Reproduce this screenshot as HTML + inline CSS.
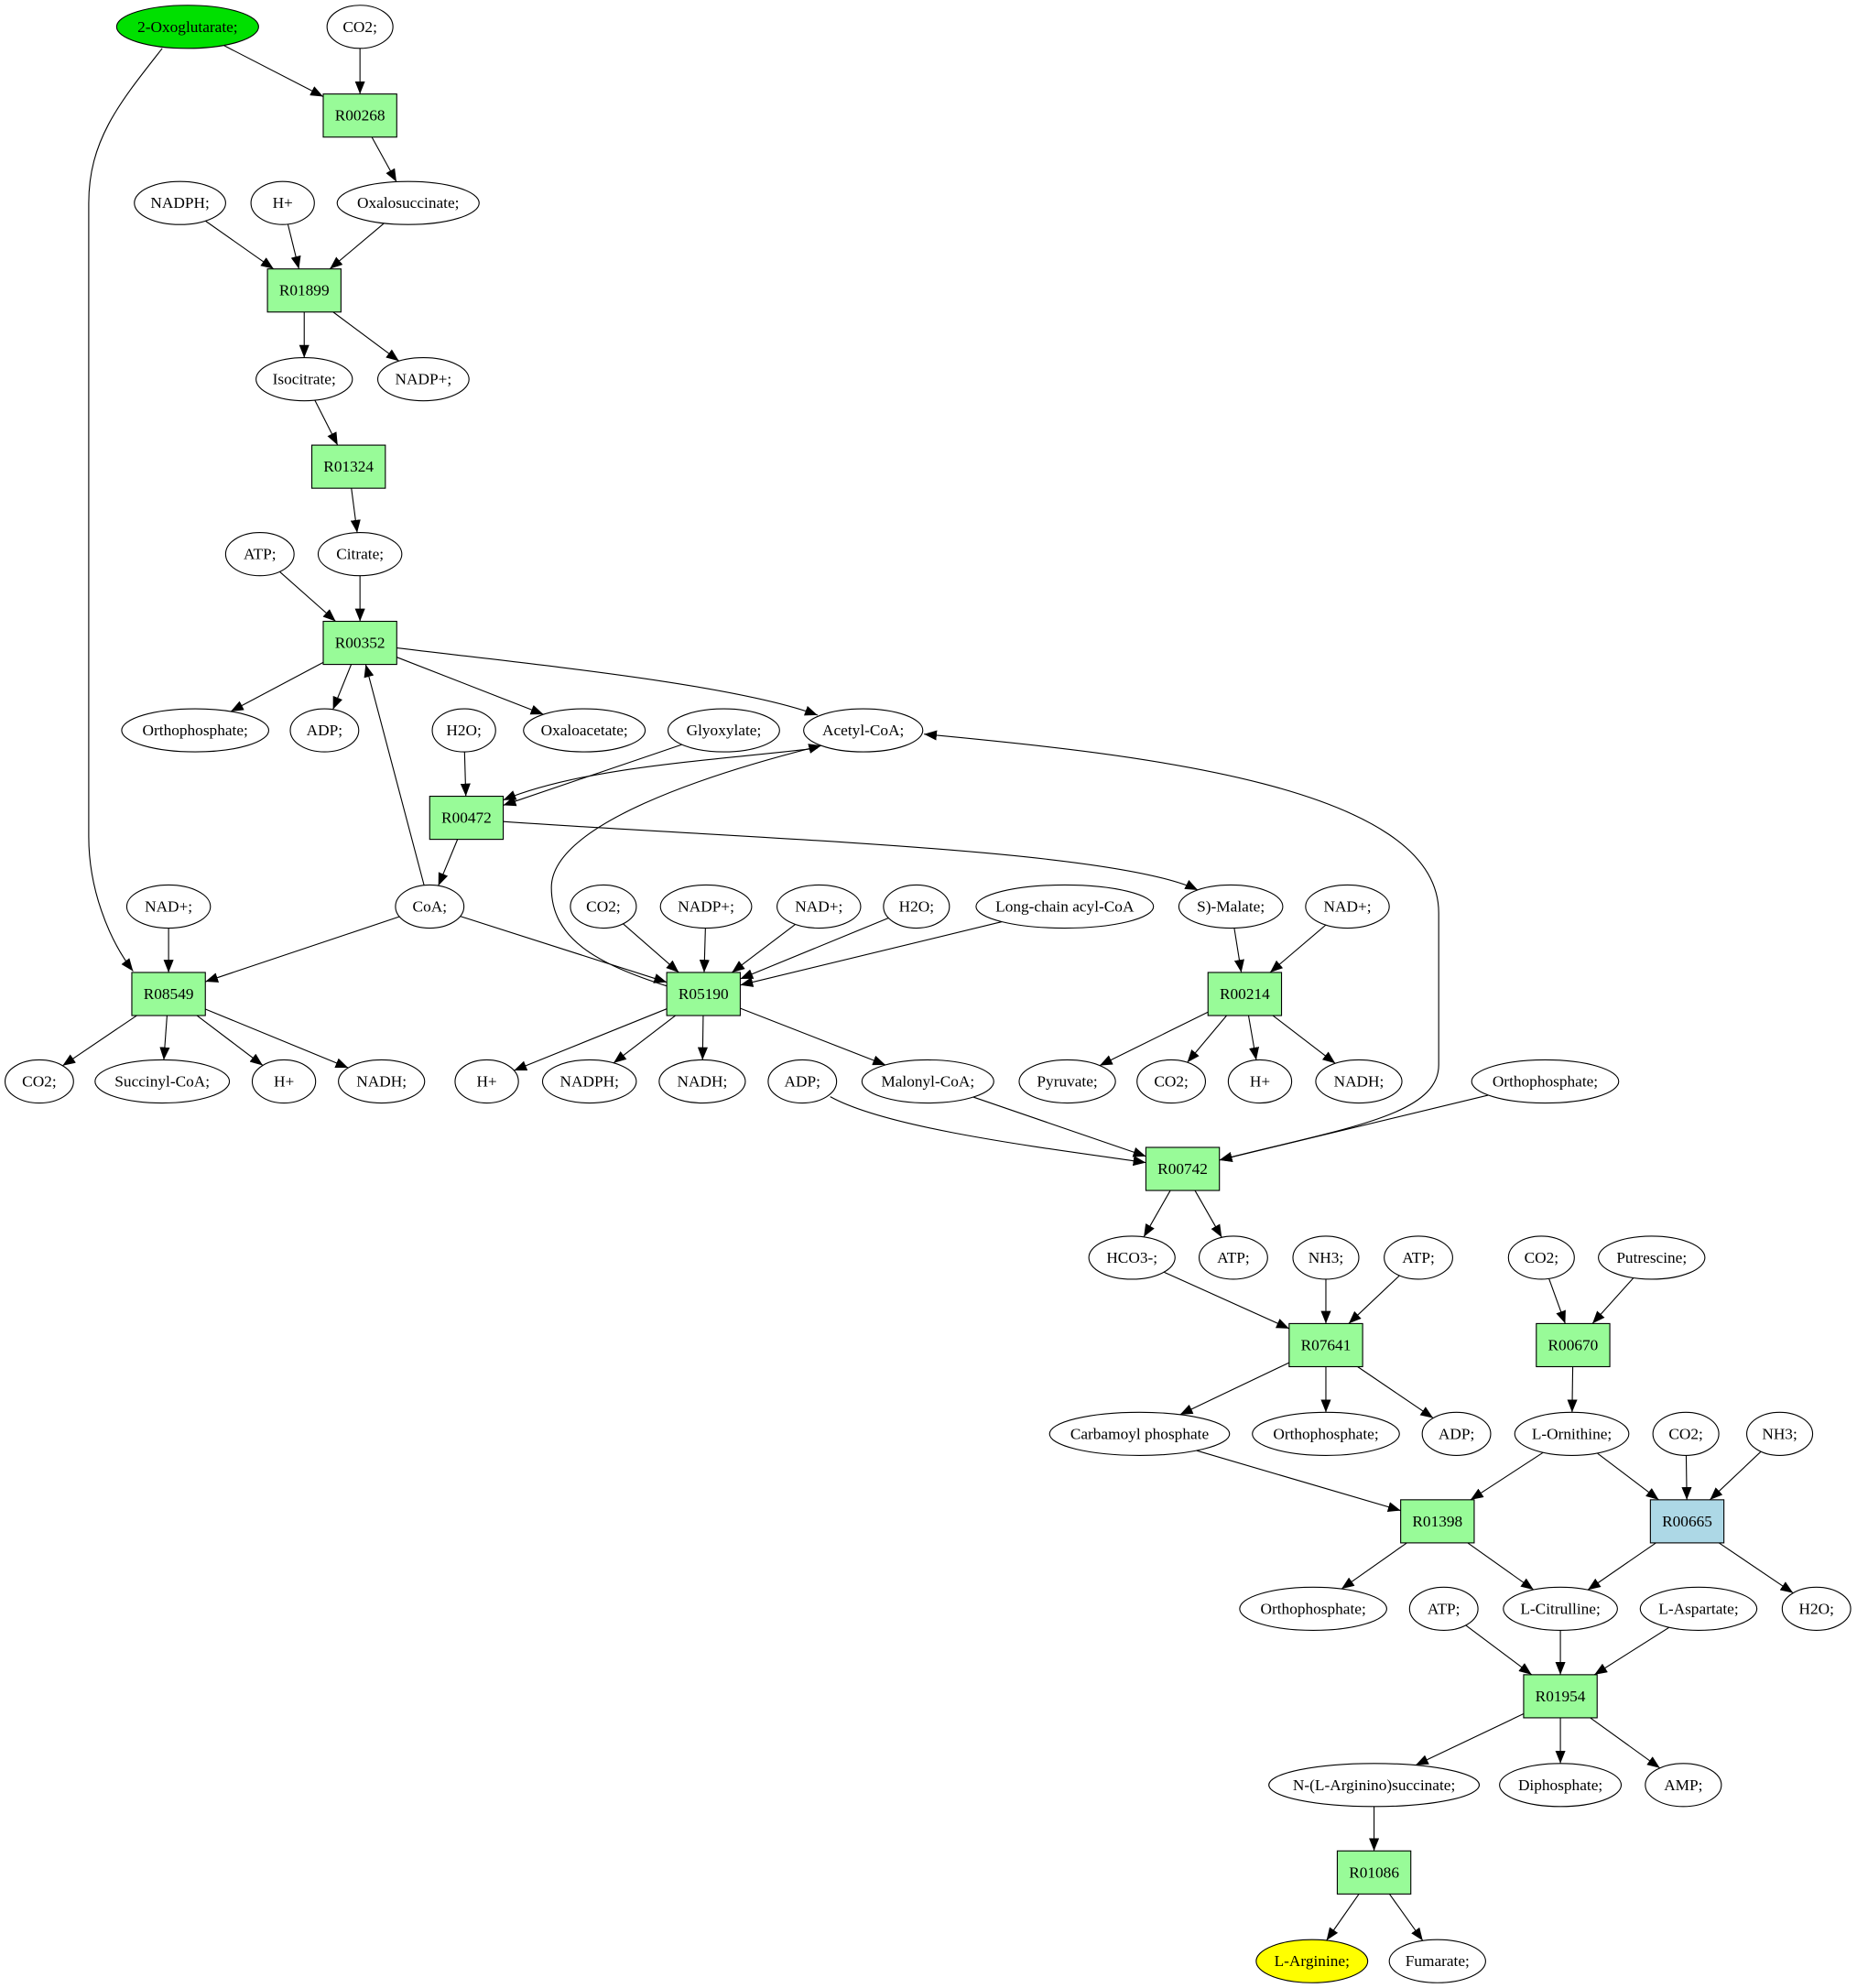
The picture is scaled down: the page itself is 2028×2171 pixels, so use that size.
<!DOCTYPE html>
<html><head><meta charset="utf-8"><style>
html,body{margin:0;padding:0;background:#fff}
svg{display:block}
text{font-family:"Liberation Serif",serif;font-size:12.5px;text-anchor:middle;dominant-baseline:central}
</style></head><body>
<svg id="s" width="2028" height="2171" viewBox="0 0 1465 1568" xmlns="http://www.w3.org/2000/svg">
<defs><marker id="a" markerUnits="userSpaceOnUse" markerWidth="11" markerHeight="8" refX="10" refY="4" orient="auto-start-reverse"><path d="M0,0 L10,4 L0,8 z" fill="#000"/></marker></defs>
<g id="e" fill="none" stroke="#000" stroke-width="0.8"></g>
<g id="n"></g>
</svg>
<script>
var N={},ns="http://www.w3.org/2000/svg";
function E(id,x,y,rx,label,fill){N[id]={t:'e',x:x,y:y,rx:rx,ry:17,l:label,f:fill||'#fff'};}
function B(id,x,y,fill){N[id]={t:'b',x:x,y:y,w:29,h:17,l:id,f:fill||'#98fb98'};}
E('oxo',148,21,56,'2-Oxoglutarate;','#00e000');E('co2a',284,21,26,'CO2;');
B('R00268',284,91);
E('nadph1',142,160,36,'NADPH;');E('h1',223,160,25,'H+');E('oxs',322,160,56,'Oxalosuccinate;');
B('R01899',240,229);
E('iso',240,299,38,'Isocitrate;');E('nadp1',334,299,36,'NADP+;');
B('R01324',275,368);
E('atp1',205,437,27,'ATP;');E('cit',284,437,33,'Citrate;');
B('R00352',284,507);
E('op1',154,576,58,'Orthophosphate;');E('adp1',256,576,27,'ADP;');E('h2o1',366,576,25,'H2O;');E('oaa',461,576,48,'Oxaloacetate;');E('gly',571,576,44,'Glyoxylate;');E('acoa',681,576,47,'Acetyl-CoA;');
B('R00472',368,645);
E('nad1',133,715,33,'NAD+;');E('coa',339,715,27,'CoA;');E('co2b',476,715,26,'CO2;');E('nadp2',557,715,36,'NADP+;');E('nad2',646,715,33,'NAD+;');E('h2o2',723,715,26,'H2O;');E('lc',840,715,70,'Long-chain acyl-CoA');E('mal',971,715,41,'S)-Malate;');E('nad3',1063,715,33,'NAD+;');
B('R08549',133,784);B('R05190',555,784);B('R00214',982,784);
E('co2c',31,853,27,'CO2;');E('suc',128,853,53,'Succinyl-CoA;');E('h2',224,853,25,'H+');E('nadh1',301,853,34,'NADH;');E('h3',384,853,25,'H+');E('nadph2',465,853,37,'NADPH;');E('nadh2',554,853,34,'NADH;');E('adp2',633,853,27,'ADP;');E('mcoa',732,853,52,'Malonyl-CoA;');E('pyr',842,853,38,'Pyruvate;');E('co2d',924,853,27,'CO2;');E('h4',994,853,25,'H+');E('nadh3',1072,853,34,'NADH;');E('op2',1219,853,58,'Orthophosphate;');
B('R00742',933,922);
E('hco3',893,992,34,'HCO3-;');E('atp2',973,992,27,'ATP;');E('nh3a',1046,992,26,'NH3;');E('atp3',1119,992,27,'ATP;');E('co2e',1216,992,26,'CO2;');E('put',1303,992,42,'Putrescine;');
B('R07641',1046,1061);B('R00670',1241,1061);
E('cp',899,1131,71,'Carbamoyl phosphate');E('op3',1046,1131,58,'Orthophosphate;');E('adp3',1149,1131,27,'ADP;');E('orn',1240,1131,45,'L-Ornithine;');E('co2f',1330,1131,26,'CO2;');E('nh3b',1404,1131,26,'NH3;');
B('R01398',1134,1200);B('R00665',1331,1200,'#add8e6');
E('op4',1036,1269,58,'Orthophosphate;');E('atp4',1139,1269,27,'ATP;');E('citr',1231,1269,45,'L-Citrulline;');E('asp',1340,1269,46,'L-Aspartate;');E('h2o3',1433,1269,27,'H2O;');
B('R01954',1231,1338);
E('nas',1084,1408,83,'N-(L-Arginino)succinate;');E('dip',1231,1408,48,'Diphosphate;');E('amp',1328,1408,30,'AMP;');
B('R01086',1084,1477);
E('arg',1035,1547,44,'L-Arginine;','#ffff00');E('fum',1134,1547,38,'Fumarate;');

var edges=[['oxo','R00268'],['co2a','R00268'],['R00268','oxs'],['nadph1','R01899'],['h1','R01899'],['oxs','R01899'],['R01899','iso'],['R01899','nadp1'],['iso','R01324'],['R01324','cit'],['atp1','R00352'],['cit','R00352'],['R00352','op1'],['R00352','adp1'],['R00352','oaa'],['h2o1','R00472'],['gly','R00472'],['R00472','coa'],['coa','R00352'],['nad1','R08549'],['coa','R08549'],['R08549','co2c'],['R08549','suc'],['R08549','h2'],['R08549','nadh1'],['coa','R05190'],['co2b','R05190'],['nadp2','R05190'],['nad2','R05190'],['h2o2','R05190'],['lc','R05190'],['R05190','h3'],['R05190','nadph2'],['R05190','nadh2'],['R05190','mcoa'],['mal','R00214'],['nad3','R00214'],['R00214','pyr'],['R00214','co2d'],['R00214','h4'],['R00214','nadh3'],['mcoa','R00742'],['op2','R00742'],['R00742','hco3'],['R00742','atp2'],['hco3','R07641'],['nh3a','R07641'],['atp3','R07641'],['R07641','cp'],['R07641','op3'],['R07641','adp3'],['co2e','R00670'],['put','R00670'],['R00670','orn'],['cp','R01398'],['orn','R01398'],['orn','R00665'],['co2f','R00665'],['nh3b','R00665'],['R01398','op4'],['R01398','citr'],['R00665','citr'],['R00665','h2o3'],['atp4','R01954'],['citr','R01954'],['asp','R01954'],['R01954','nas'],['R01954','dip'],['R01954','amp'],['nas','R01086'],['R01086','arg'],['R01086','fum']];
function clip(n,dx,dy){var L=Math.hypot(dx,dy),ux=dx/L,uy=dy/L,t;
 if(n.t=='e'){t=1/Math.sqrt(ux*ux/(n.rx*n.rx)+uy*uy/(n.ry*n.ry));}
 else{t=Math.min(ux?n.w/Math.abs(ux):1e9,uy?n.h/Math.abs(uy):1e9);}
 return [n.x+ux*t,n.y+uy*t];}
var eg=document.getElementById('e'),ng=document.getElementById('n');
function mk(tag,at,par){var el=document.createElementNS(ns,tag);for(var k in at)el.setAttribute(k,at[k]);par.appendChild(el);return el;}
edges.forEach(function(p){var a=N[p[0]],b=N[p[1]];var dx=b.x-a.x,dy=b.y-a.y;
 var s=clip(a,dx,dy),e=clip(b,-dx,-dy);
 mk('path',{d:'M'+s[0]+','+s[1]+' L'+e[0]+','+e[1],'marker-end':'url(#a)'},eg);});
var curves=['M128,38 C95,80 70,110 70,160 L70,660 C70,700 85,740 105,766',
'M313,511 C430,525 580,540 645,564',
'M645,590 C560,600 460,605 397,631',
'M527,778 C470,760 435,740 435,700 C435,650 560,610 648,588',
'M397,648 C600,662 880,670 945,702',
'M655,865 C700,890 820,905 904,917'];
curves.forEach(function(d){mk('path',{d:d,'marker-end':'url(#a)'},eg);});
mk('path',{d:'M962,915 C1060,890 1135,880 1135,840 L1135,720 C1135,620 900,595 729,579','marker-end':'url(#a)','marker-start':'url(#a)'},eg);
for(var id in N){var n=N[id];
 if(n.t=='e')mk('ellipse',{cx:n.x,cy:n.y,rx:n.rx,ry:n.ry,fill:n.f,stroke:'#000','stroke-width':0.8},ng);
 else mk('rect',{x:n.x-n.w,y:n.y-n.h,width:2*n.w,height:2*n.h,fill:n.f,stroke:'#000','stroke-width':0.8},ng);
 var t=mk('text',{x:n.x,y:n.y},ng);t.textContent=n.l;}
</script>
</body></html>
